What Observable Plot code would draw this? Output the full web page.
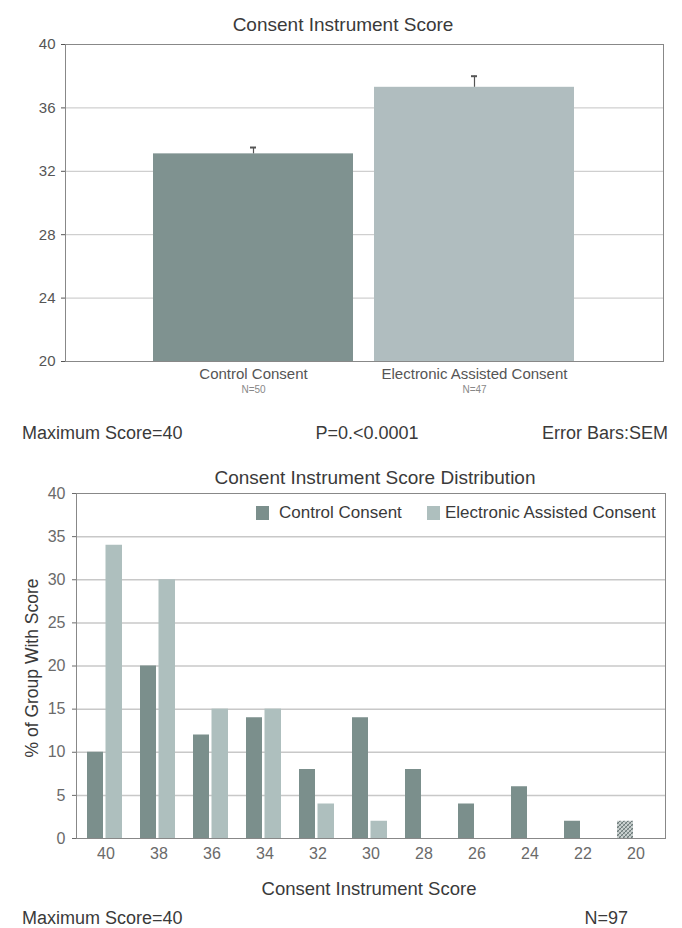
<!DOCTYPE html>
<html><head><meta charset="utf-8">
<script src="https://cdn.jsdelivr.net/npm/d3@7"></script>
<script src="https://cdn.jsdelivr.net/npm/@observablehq/plot@0.6"></script>
<style>
body{margin:0;background:#fff;font-family:"Liberation Sans",Arial,sans-serif;color:#3a3a3a}
#page{position:relative;width:682px;height:928px;overflow:hidden;background:#fff}
.t{position:absolute;white-space:nowrap;line-height:1}
.sw{position:absolute;width:13px;height:14px}
#top,#bottom{position:absolute;left:0}
#top{top:30px}
#bottom{top:485px}
</style></head><body><div id="page">
<div class="t" style="left:0;width:686px;text-align:center;top:15px;font-size:19px">Consent Instrument Score</div>
<div id="top"></div>
<div class="t" style="left:22px;top:424px;font-size:18px">Maximum Score=40</div>
<div class="t" style="left:367px;top:424px;font-size:18px;transform:translateX(-50%)">P=0.&lt;0.0001</div>
<div class="t" style="right:14px;top:424px;font-size:18px">Error Bars:SEM</div>

<div class="t" style="left:0;width:750px;text-align:center;top:468px;font-size:19px">Consent Instrument Score Distribution</div>
<div id="bottom"></div>
<div class="sw" style="left:256px;top:506px;background:#7b8f8c"></div>
<div class="t" style="left:279px;top:504px;font-size:17px">Control Consent</div>
<div class="sw" style="left:427px;top:506px;background:#aebfbe"></div>
<div class="t" style="left:445px;top:504px;font-size:17px">Electronic Assisted Consent</div>
<div class="t" style="left:33px;top:668px;font-size:17.5px;transform:translate(-50%,-50%) rotate(-90deg)">% of Group With Score</div>
<div class="t" style="left:0;width:738px;text-align:center;top:880px;font-size:18.5px">Consent Instrument Score</div>
<div class="t" style="left:22px;top:909px;font-size:18px">Maximum Score=40</div>
<div class="t" style="right:54px;top:909px;font-size:18px">N=97</div>
</div>
<script>
// ---- Top chart data ----
const topGroups = ["Control Consent", "Electronic Assisted Consent"];
const topN = ["N=50", "N=47"];
const topMeans = [33.1, 37.3];
const topSEM = [0.4, 0.7];
const topTicks = [20, 24, 28, 32, 36, 40];
const topColors = ["#7f9290", "#b0bdbf"];

// ---- Bottom chart data ----
const scores = [40, 38, 36, 34, 32, 30, 28, 26, 24, 22, 20];
const controlPct = [10, 20, 12, 14, 8, 14, 8, 4, 6, 2, 2];
const electronicPct = [34, 30, 15, 15, 4, 2, 0, 0, 0, 0, 0];
const bottomTicks = [0, 5, 10, 15, 20, 25, 30, 35, 40];

const font = '"Liberation Sans", Arial, sans-serif';

const topData = topGroups.map((g, i) => ({group: g, n: topN[i], mean: topMeans[i], sem: topSEM[i]}));

const topChart = Plot.plot({
  width: 682, height: 370,
  marginLeft: 65, marginRight: 19, marginTop: 14, marginBottom: 39,
  style: {fontFamily: font, fontSize: "15px", color: "#555", background: "transparent"},
  x: {domain: topGroups, paddingInner: 0.095, paddingOuter: 0.4, tickSize: 0, tickPadding: 7, label: null},
  y: {domain: [topTicks[0], topTicks[topTicks.length - 1]], ticks: topTicks, tickSize: 4, tickPadding: 6, label: null},
  color: {domain: topGroups, range: topColors},
  marks: [
    Plot.ruleY(topTicks.slice(1, -1), {stroke: "#c4c4c4"}),
    Plot.barY(topData, {x: "group", y1: topTicks[0], y2: "mean", fill: "group"}),
    Plot.ruleX(topData, {x: "group", y1: "mean", y2: d => d.mean + d.sem, stroke: "#555", strokeWidth: 1.2}),
    Plot.tickY(topData, {x: "group", y: d => d.mean + d.sem, stroke: "#555", strokeWidth: 2, insetLeft: 97, insetRight: 97}),
    Plot.text(topData, {x: "group", text: "n", frameAnchor: "bottom", dy: 31, fontSize: 10, fill: "#888"}),
    Plot.frame({stroke: "#888"})
  ]
});
document.getElementById("top").appendChild(topChart);

const control = scores.map((s, i) => ({score: String(s), pct: controlPct[i]}));
const electronic = scores.map((s, i) => ({score: String(s), pct: electronicPct[i]})).filter(d => d.pct > 0);

const bottomChart = Plot.plot({
  width: 682, height: 380,
  marginLeft: 76, marginRight: 17, marginTop: 8, marginBottom: 27,
  style: {fontFamily: font, fontSize: "16px", color: "#6a6a6a", background: "transparent"},
  x: {domain: scores.map(String), padding: 0, tickSize: 0, tickPadding: 9, label: null},
  y: {domain: [bottomTicks[0], bottomTicks[bottomTicks.length - 1]], ticks: bottomTicks, tickSize: 4, tickPadding: 7, label: null},
  marks: [
    Plot.ruleY(bottomTicks.slice(1, -1), {stroke: "#c8c8c8", strokeWidth: 1.5}),
    Plot.barY(control.filter(d => d.score !== "20"), {x: "score", y: "pct", fill: "#7b8f8c", insetLeft: 8, insetRight: 29}),
    Plot.barY(control.filter(d => d.score === "20"), {x: "score", y: "pct", fill: "url(#hatch)", insetLeft: 8, insetRight: 29}),
    Plot.barY(electronic, {x: "score", y: "pct", fill: "#aebfbe", insetLeft: 26.5, insetRight: 10}),
    Plot.frame({stroke: "#888"})
  ]
});
const ns = "http://www.w3.org/2000/svg";
const svgEl = bottomChart.tagName.toLowerCase() === "svg" ? bottomChart : bottomChart.querySelector("svg");
const defs = document.createElementNS(ns, "defs");
defs.innerHTML = '<pattern id="hatch" width="4" height="4" patternUnits="userSpaceOnUse">' +
  '<rect width="4" height="4" fill="#c9d0cf"/>' +
  '<path d="M0,4 L4,0 M-1,1 L1,-1 M3,5 L5,3" stroke="#6e7c7b" stroke-width="1"/>' +
  '<path d="M0,0 L4,4" stroke="#8a9696" stroke-width="0.8"/></pattern>';
svgEl.insertBefore(defs, svgEl.firstChild);
document.getElementById("bottom").appendChild(bottomChart);
</script>
</body></html>
